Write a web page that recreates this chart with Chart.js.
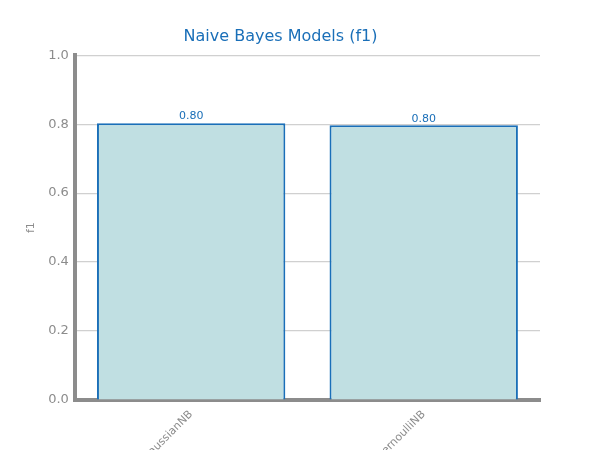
<!DOCTYPE html>
<html>
<head>
<meta charset="utf-8">
<script src="https://cdn.jsdelivr.net/npm/chart.js@4/dist/chart.umd.min.js"></script>
<style>
  html, body { margin: 0; padding: 0; background: #fff; overflow: hidden; }
  #wrap { width: 600px; height: 450px; position: relative; }
</style>
</head>
<body>
<div id="wrap"><canvas id="chart"></canvas></div>
<script>
// chart data
const categories = ['GaussianNB', 'BernoulliNB'];
const f1Values = [0.803, 0.797];
const yTicks = [0.0, 0.2, 0.4, 0.6, 0.8, 1.0];

const blue = '#1a6fb8';
const gray = '#8c8c8c';

// write the value over each bar
const valueLabels = {
    id: 'valueLabels',
    afterDatasetsDraw(chart) {
        const ctx = chart.ctx;
        const meta = chart.getDatasetMeta(0);
        ctx.save();
        ctx.fillStyle = blue;
        ctx.font = '11px "DejaVu Sans"';
        ctx.textAlign = 'center';
        ctx.textBaseline = 'bottom';
        meta.data.forEach((bar, i) => {
            ctx.fillText(f1Values[i].toFixed(2), bar.x, bar.y - 1);
        });
        ctx.restore();
    }
};

new Chart(document.getElementById('chart'), {
    type: 'bar',
    data: {
        labels: categories,
        datasets: [{
            data: f1Values,
            backgroundColor: '#c0dfe2',
            borderColor: blue,
            borderWidth: 2,
            barPercentage: 0.81,
            categoryPercentage: 1
        }]
    },
    options: {
        responsive: true,
        maintainAspectRatio: false,
        animation: false,
        layout: { padding: { top: 4, right: 60, left: 21 } },
        plugins: {
            legend: { display: false },
            tooltip: { enabled: false },
            title: {
                display: true,
                text: 'Naive Bayes Models (f1)',
                color: blue,
                font: { family: 'DejaVu Sans', size: 16, weight: 'normal' },
                padding: { top: 23, bottom: 9 }
            }
        },
        scales: {
            x: {
                grid: { display: false, drawTicks: true, tickLength: 5, tickColor: gray },
                border: { color: gray, width: 4 },
                ticks: {
                    color: gray,
                    minRotation: 45,
                    maxRotation: 45,
                    font: { family: 'DejaVu Sans', size: 11 }
                },
                afterFit(scale) { scale.height = 50; }
            },
            y: {
                min: 0,
                max: 1,
                afterBuildTicks(scale) { scale.ticks = yTicks.map(v => ({ value: v })); },
                grid: { color: '#d0d0d0', lineWidth: 1.2, drawTicks: false },
                border: { color: gray, width: 4 },
                ticks: {
                    color: gray,
                    padding: 6,
                    font: { family: 'DejaVu Sans', size: 13 },
                    callback: v => v.toFixed(1)
                },
                title: {
                    display: true,
                    text: 'f1',
                    color: gray,
                    font: { family: 'DejaVu Sans', size: 11 }
                }
            }
        }
    },
    plugins: [valueLabels]
});
</script>
</body>
</html>
